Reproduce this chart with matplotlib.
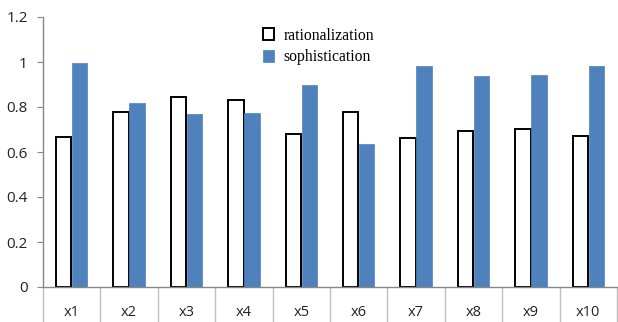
import numpy as np
import matplotlib
matplotlib.use("Agg")
import matplotlib.pyplot as plt

categories = ["x1", "x2", "x3", "x4", "x5", "x6", "x7", "x8", "x9", "x10"]
rationalization = [0.667, 0.778, 0.846, 0.831, 0.679, 0.778, 0.662, 0.693, 0.702, 0.671]
sophistication = [0.996, 0.817, 0.768, 0.773, 0.898, 0.636, 0.984, 0.939, 0.944, 0.982]
yticks = [0, 0.2, 0.4, 0.6, 0.8, 1, 1.2]
ytick_labels = ["0", "0.2", "0.4", "0.6", "0.8", "1", "1.2"]

plt.rcParams["font.family"] = ["Open Sans", "DejaVu Sans"]

fig = plt.figure(figsize=(6.18, 3.22), dpi=100)
ax = fig.add_axes([43 / 618, 35 / 322, 574 / 618, 270 / 322])

x = np.arange(len(categories))
w = 0.27
ax.bar(x - w / 2 - 0.005, rationalization, w, color="white", edgecolor="black",
       linewidth=1.4, label="rationalization")
ax.bar(x + w / 2 + 0.005, sophistication, w, color="#4F81BD", edgecolor="#4F81BD",
       linewidth=0.5, label="sophistication")

ax.set_xlim(-0.5, len(categories) - 0.5)
ax.set_ylim(0, 1.2)
ax.set_yticks(yticks)
ax.set_yticklabels(ytick_labels)
ax.set_xticks(x)
ax.set_xticklabels(categories)
ax.set_xticks(np.arange(len(categories) + 1) - 0.5, minor=True)

for s in ["top", "right"]:
    ax.spines[s].set_visible(False)
for s in ["left", "bottom"]:
    ax.spines[s].set_color("#868686")
    ax.spines[s].set_linewidth(1.0)

ax.tick_params(axis="y", direction="out", length=4, color="#868686",
               labelsize=11, pad=7, labelcolor="#222222")
ax.tick_params(axis="x", which="major", length=0, pad=13, labelsize=10.5,
               labelcolor="#222222")
ax.tick_params(axis="x", which="minor", length=40, color="#bfbfbf", width=1.0)

leg = ax.legend(loc="upper left", bbox_to_anchor=(0.367, 0.995), frameon=False,
                prop={"family": "Liberation Serif", "size": 11.3},
                handlelength=0.7, handleheight=0.8, handletextpad=0.6,
                labelspacing=0.35, borderaxespad=0.2)

fig.savefig("out.png", dpi=100)
